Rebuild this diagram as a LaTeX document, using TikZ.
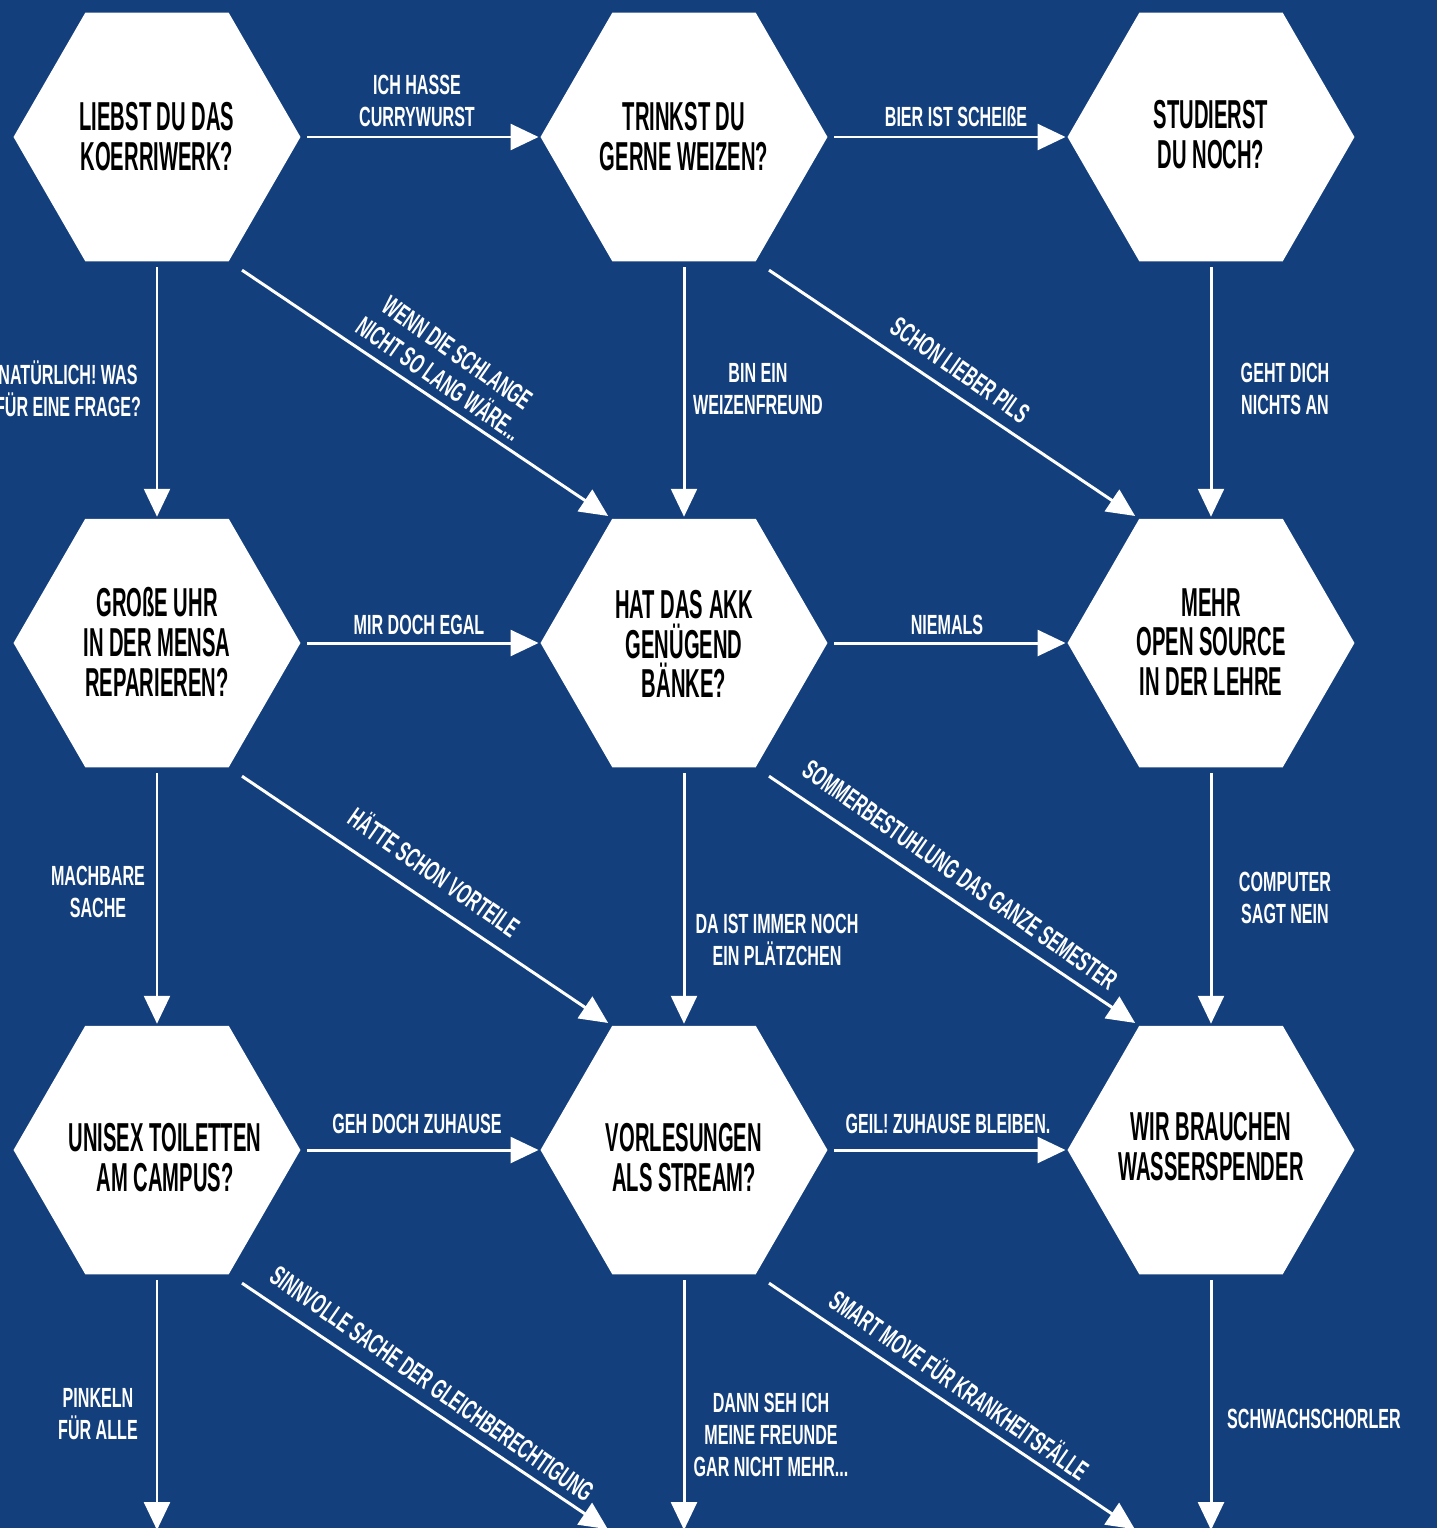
\documentclass[tikz,border=0pt]{standalone}
\usepackage{fontspec}
\usetikzlibrary{shapes.geometric,arrows.meta}
\newfontfamily\hexfont[FakeStretch=0.5]{Liberation Sans}
\newfontfamily\labfont[FakeStretch=0.58]{Liberation Sans}
\definecolor{bg}{HTML}{133F7D}
\begin{document}
\begin{tikzpicture}[x=0.02cm,y=-0.02cm,
 hex/.style={regular polygon, regular polygon sides=6, minimum size=5.74cm, inner sep=0pt, outer sep=0pt, fill=white},
 hext/.style={text=black, align=center, inner sep=0pt, font=\hexfont\bfseries\fontsize{23}{22.7}\selectfont},
 lab/.style={text=white, align=center, inner sep=0pt, font=\labfont\bfseries\fontsize{15.8}{18.1}\selectfont},
 arr/.style={draw=white, line width=1.7pt, -{Triangle[length=15.9pt,width=14.7pt]}},
 hz/.style={arr, shorten <=0.14cm, shorten >=0.04cm},
 vt/.style={arr, shorten <=0.12cm, shorten >=0.04cm},
 dg/.style={arr, shorten <=0.32cm, shorten >=0.1cm}]
\path[use as bounding box] (0,0) rectangle (1437,1528);
\clip (0,0) rectangle (1437,1528);
\fill[bg] (0,0) rectangle (1437,1528);

% hexagons
\node[hex] (h1) at (157,137) {};
\node[hex] (h2) at (684,137) {};
\node[hex] (h3) at (1211,137) {};
\node[hex] (h4) at (157,643) {};
\node[hex] (h5) at (684,643) {};
\node[hex] (h6) at (1211,643) {};
\node[hex] (h7) at (157,1150) {};
\node[hex] (h8) at (684,1150) {};
\node[hex] (h9) at (1211,1150) {};

% hexagon texts
\node[hext] (t1) at (157,137) {LIEBST DU DAS\\KOERRIWERK?};
\node[hext] (t2) at (684,137) {TRINKST DU\\GERNE WEIZEN?};
\node[hext] (t3) at (1211,135) {STUDIERST\\DU NOCH?};
\node[hext] (t4) at (157,642) {GROßE UHR\\IN DER MENSA\\REPARIEREN?};
\node[hext] (t5) at (684,644) {HAT DAS AKK\\GENÜGEND\\BÄNKE?};
\node[hext] (t6) at (1211,642) {MEHR\\OPEN SOURCE\\IN DER LEHRE};
\node[hext] (t7) at (165,1158) {UNISEX TOILETTEN\\AM CAMPUS?};
\node[hext] (t8) at (684,1158) {VORLESUNGEN\\ALS STREAM?};
\node[hext] (t9) at (1211,1147) {WIR BRAUCHEN\\WASSERSPENDER};

% off-picture ends
\coordinate (b1) at (157,1532);
\coordinate (b2) at (612,1532);
\coordinate (b3) at (684,1532);
\coordinate (b4) at (1139,1532);
\coordinate (b5) at (1211,1532);

% row 1 connectors
\draw[hz] (h1.east) -- (h2.west);
\draw[hz] (h2.east) -- (h3.west);
\draw[vt] (h1.south) -- (h4.north);
\draw[dg] (h1.-60) -- (h5.120);
\draw[vt] (h2.south) -- (h5.north);
\draw[dg] (h2.-60) -- (h6.120);
\draw[vt] (h3.south) -- (h6.north);
% row 2 connectors
\draw[hz] (h4.east) -- (h5.west);
\draw[hz] (h5.east) -- (h6.west);
\draw[vt] (h4.south) -- (h7.north);
\draw[dg] (h4.-60) -- (h8.120);
\draw[vt] (h5.south) -- (h8.north);
\draw[dg] (h5.-60) -- (h9.120);
\draw[vt] (h6.south) -- (h9.north);
% row 3 connectors
\draw[hz] (h7.east) -- (h8.west);
\draw[hz] (h8.east) -- (h9.west);
\draw[vt] (h7.south) -- (b1);
\draw[dg] (h7.-60) -- (b2);
\draw[vt] (h8.south) -- (b3);
\draw[dg] (h8.-60) -- (b4);
\draw[vt] (h9.south) -- (b5);

% labels
\node[lab] (l1) at (417,101) {ICH HASSE\\CURRYWURST};
\node[lab] (l2) at (956,117) {BIER IST SCHEIßE};
\node[lab] (l3) at (68,389) {NATÜRLICH! WAS\\FÜR EINE FRAGE?};
\node[lab, rotate=-35] (l4) at (448,366) {WENN DIE SCHLANGE\\NICHT SO LANG WÄRE...};
\node[lab] (l5) at (758,389) {BIN EIN\\WEIZENFREUND};
\node[lab, rotate=-35] (l6) at (960,370) {SCHON LIEBER PILS};
\node[lab] (l7) at (1285,389) {GEHT DICH\\NICHTS AN};
\node[lab] (l8) at (419,625) {MIR DOCH EGAL};
\node[lab] (l9) at (947,625) {NIEMALS};
\node[lab] (l10) at (98,892) {MACHBARE\\SACHE};
\node[lab, rotate=-35] (l11) at (435,871) {HÄTTE SCHON VORTEILE};
\node[lab] (l12) at (777,940) {DA IST IMMER NOCH\\EIN PLÄTZCHEN};
\node[lab, rotate=-35] (l13) at (960,875) {SOMMERBESTUHLUNG DAS GANZE SEMESTER};
\node[lab] (l14) at (1285,898) {COMPUTER\\SAGT NEIN};
\node[lab] (l15) at (417,1124) {GEH DOCH ZUHAUSE};
\node[lab] (l16) at (948,1124) {GEIL! ZUHAUSE BLEIBEN.};
\node[lab] (l17) at (98,1414) {PINKELN\\FÜR ALLE};
\node[lab, rotate=-35] (l18) at (432,1384) {SINNVOLLE SACHE DER GLEICHBERECHTIGUNG};
\node[lab] (l19) at (771,1435) {DANN SEH ICH\\MEINE FREUNDE\\GAR NICHT MEHR...};
\node[lab, rotate=-35] (l20) at (960,1384) {SMART MOVE FÜR KRANKHEITSFÄLLE};
\node[lab] (l21) at (1314,1419) {SCHWACHSCHORLER};
\end{tikzpicture}
\end{document}
